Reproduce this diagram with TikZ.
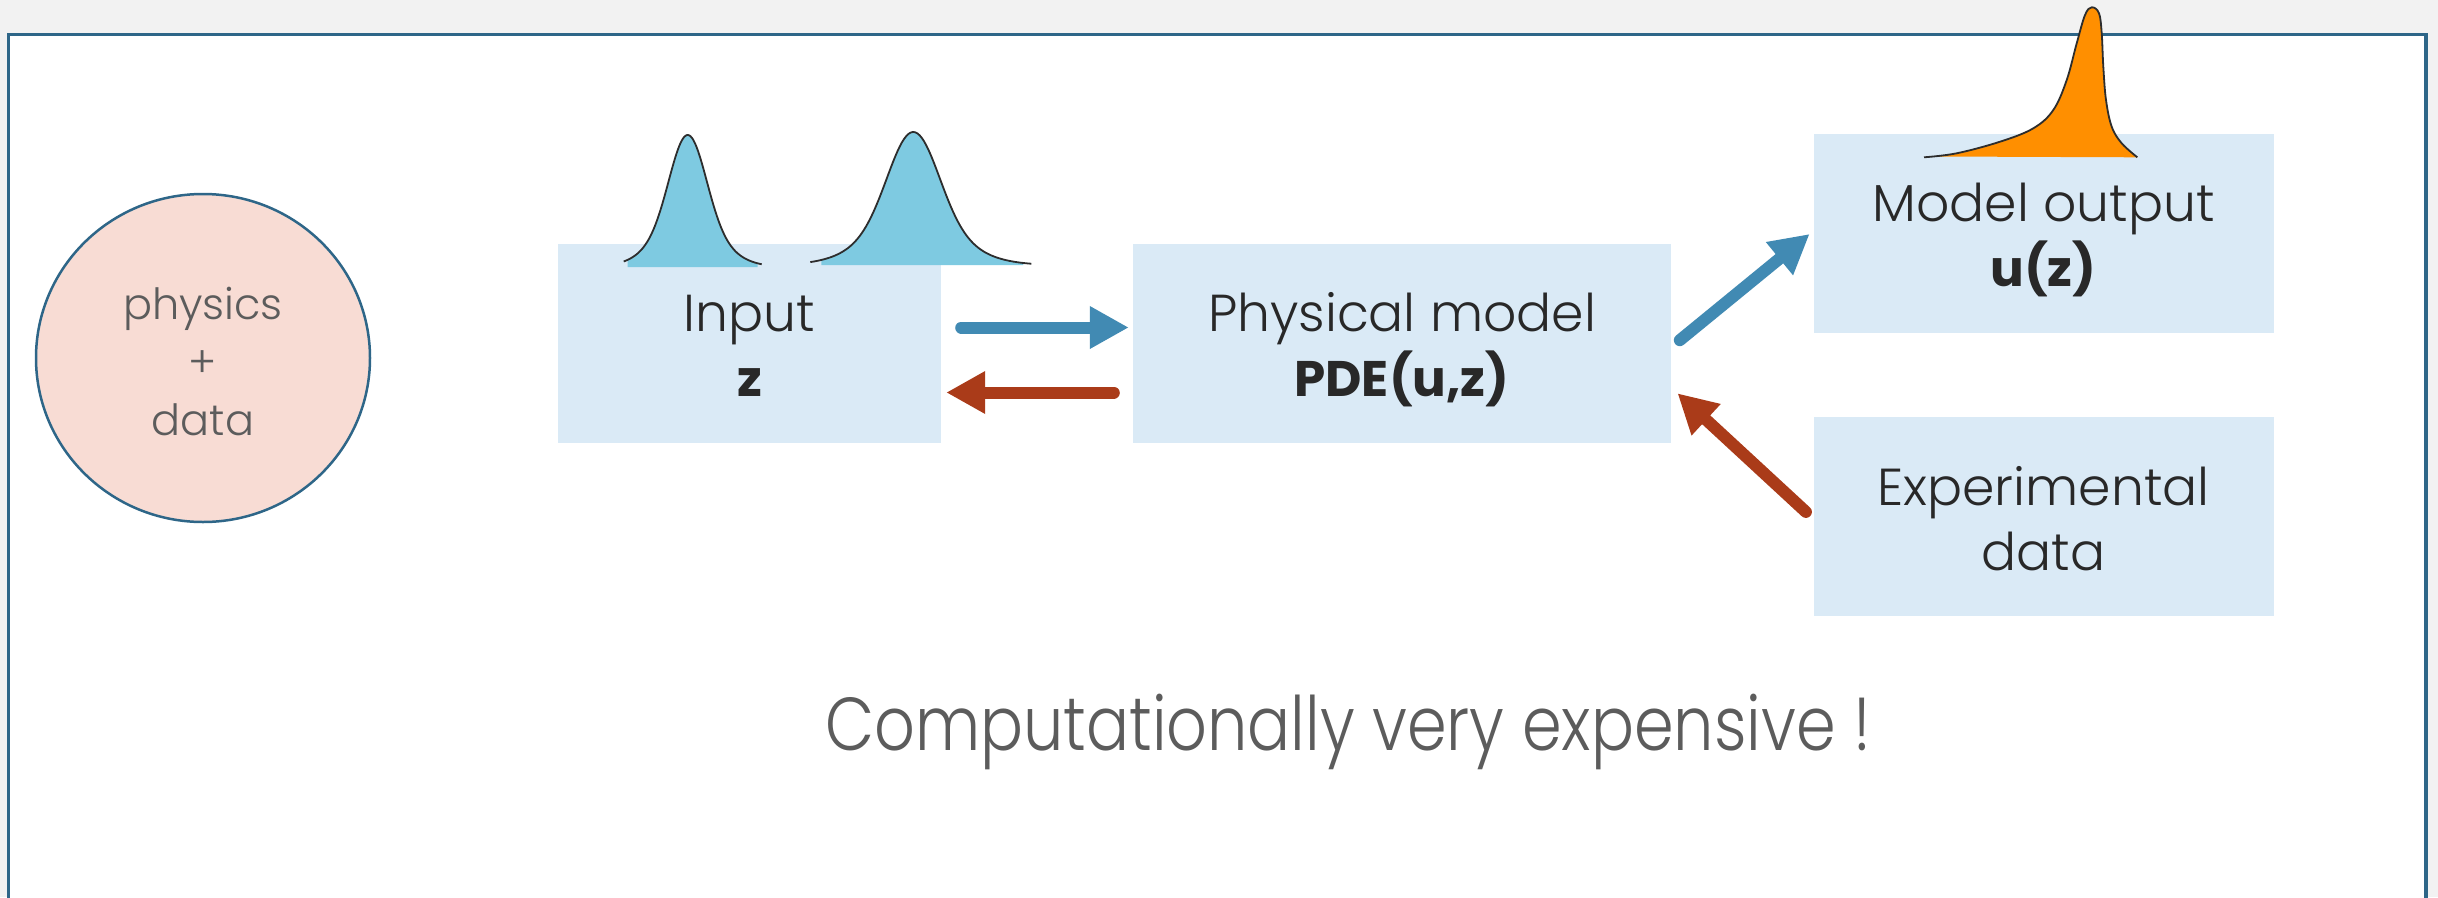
\documentclass[tikz,border=0pt]{standalone}
\usepackage{fontspec}
\setmainfont{Poppins}[UprightFont={* Light}, BoldFont={* Bold}]
\newfontfamily\remarkfont{Poppins}[UprightFont={* Light}, FakeStretch=0.85]
\usetikzlibrary{arrows.meta,calc,shapes.geometric}

\definecolor{pagegray}{RGB}{242,242,242}
\definecolor{frameblue}{RGB}{46,102,136}
\definecolor{boxblue}{RGB}{218,234,246}
\definecolor{circlepink}{RGB}{248,220,212}
\definecolor{ink}{RGB}{40,40,40}
\definecolor{softink}{RGB}{92,92,92}
\definecolor{flowblue}{RGB}{65,138,179}
\definecolor{flowred}{RGB}{170,59,25}
\definecolor{pdfblue}{RGB}{126,202,225}
\definecolor{pdforange}{RGB}{255,143,0}
\definecolor{curveink}{RGB}{45,45,45}

\begin{document}
\begin{tikzpicture}[x=1pt,y=-1pt,
  stagebox/.style={fill=boxblue, draw=none, inner sep=0pt, minimum height=199pt},
  lbl/.style={font=\fontsize{52}{60}\selectfont, text=ink, anchor=base, inner sep=0pt},
  lblbold/.style={lbl, font=\fontsize{50}{60}\selectfont\bfseries},
  softlbl/.style={font=\fontsize{43}{50}\selectfont, text=softink, anchor=base, inner sep=0pt},
  flow/.style={line width=12pt, line cap=round, -{Triangle[length=39pt,width=40pt]}},
  pdfcurve/.style={draw=curveink, line width=1.8pt},
]
% canvas and frame
\useasboundingbox (0,0) rectangle (2438,897);
\fill[pagegray] (0,0) rectangle (2438,897);
\draw[frameblue, line width=3.2pt, fill=white] (8.7,34.7) rectangle (2426,920);

% physics + data
\node[ellipse, fill=circlepink, draw=frameblue, line width=2.5pt, minimum width=334pt, minimum height=328pt, inner sep=0pt] (pd) at (203,358) {};
\node[softlbl] (pdphys) at ($(pd.center)+(0,-39)$) {physics};
\node[softlbl] (pdplus) at ($(pd.center)+(0,19)$) {+};
\node[softlbl] (pddata) at ($(pd.center)+(0,77)$) {data};

% stages
\node[stagebox, minimum width=383pt] (input) at (749.5,343.5) {};
\node[stagebox, minimum width=538pt] (phys) at (1402,343.5) {};
\node[stagebox, minimum width=460pt] (mout) at (2043.5,233.5) {};
\node[stagebox, minimum width=460pt] (exp) at (2043.5,516.5) {};

\node[lbl] (inputA) at ($(input.center)+(0,-12)$) {Input};
\node[lblbold] (inputB) at ($(input.center)+(0,52.5)$) {z};
\node[lbl] (physA) at ($(phys.center)+(0,-12)$) {Physical model};
\node[lblbold] (physB) at ($(phys.center)+(0,52.5)$) {PDE(u,z)};
\node[lbl] (moutA) at ($(mout.center)+(0,-12)$) {Model output};
\node[lblbold] (moutB) at ($(mout.center)+(0,52.5)$) {u(z)};
\node[lbl] (expA) at ($(exp.center)+(0,-11)$) {Experimental};
\node[lbl] (expB) at ($(exp.center)+(0,53.5)$) {data};

% input densities
\fill[pdfblue] plot[domain=-60:70, samples=90]
  ({687.7+\x},{267-132*(0.7*exp(-0.5*\x*\x/324)+0.3*exp(-0.5*\x*\x/1024))}) -- (757.7,267) -- (627.7,267) -- cycle;
\draw[pdfcurve] plot[domain=-64:74, samples=90]
  ({687.7+\x},{267-132*(0.7*exp(-0.5*\x*\x/324)+0.3*exp(-0.5*\x*\x/1024))});
\fill[pdfblue] plot[domain=-92:110, samples=100]
  ({913.3+\x},{265-133*(0.7*exp(-0.5*\x*\x/625)+0.3*exp(-0.5*\x*\x/2025))}) -- (1023.3,265) -- (821.3,265) -- cycle;
\draw[pdfcurve] plot[domain=-103:118, samples=100]
  ({913.3+\x},{265-133*(0.7*exp(-0.5*\x*\x/625)+0.3*exp(-0.5*\x*\x/2025))});

% output density
\fill[pdforange] plot[smooth, tension=0.6] coordinates {
  (1935,156.5) (1956.7,153.3) (2000,141.7) (2033.3,128.3) (2053.3,110) (2066.7,80)
  (2076.7,43.3) (2085,15) (2091.7,7.3) (2099,13.3) (2101.7,33.3) (2103.3,66.7)
  (2106,100) (2111.7,126.7) (2121.7,143.3) (2137.3,157.3)} -- cycle;
\draw[pdfcurve] plot[smooth, tension=0.6] coordinates {
  (1924,157.3) (1956.7,153.3) (2000,141.7) (2033.3,128.3) (2053.3,110) (2066.7,80)
  (2076.7,43.3) (2085,15) (2091.7,7.3) (2099,13.3) (2101.7,33.3) (2103.3,66.7)
  (2106,100) (2111.7,126.7) (2121.7,143.3) (2137.3,157.3)};

% flows
\draw[flow, flowblue] ($(input.east)+(20,-16)$) -- ($(phys.west)+(-4,-16)$);
\draw[flow, flowred] ($(phys.west)+(-19,49)$) -- ($(input.east)+(5,49)$);
\draw[flow, flowblue] ($(phys.east)+(8.6,-3.3)$) -- ($(mout.west)+(-3.7,0.5)$);
\draw[flow, flowred] ($(exp.west)+(-7.4,-4.6)$) -- ($(phys.east)+(6.3,49.8)$);

% remark
\node[font=\remarkfont\fontsize{75}{90}\selectfont, text=softink, anchor=base, inner sep=0pt] (remark) at (1348,750) {Computationally very expensive !};
\end{tikzpicture}
\end{document}
